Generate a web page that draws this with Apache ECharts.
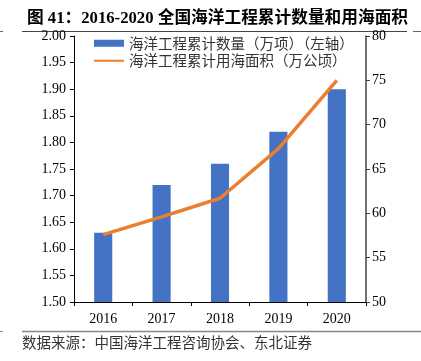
<!DOCTYPE html>
<html><head><meta charset="utf-8">
<script src="https://cdn.jsdelivr.net/npm/echarts@6/dist/echarts.min.js"></script>
<style>html,body{margin:0;padding:0;background:#fff;}#c{width:421px;height:361px;}</style>
</head><body><div id="c"></div>
<script>
const categories = ['2016','2017','2018','2019','2020'];
const countValues = [1.63, 1.72, 1.76, 1.82, 1.90];
const areaValues = [57.6, 59.6, 61.7, 67.3, 75.0];
const leftTicks = [1.50, 2.00, 0.05];
const rightTicks = [50, 80, 5];
const seriesNames = ['海洋工程累计数量（万项）（左轴）', '海洋工程累计用海面积（万公顷）'];

const serif = '"Liberation Serif","Times New Roman","Noto Sans CJK SC",serif';
const cjk = '"Noto Sans CJK SC",sans-serif';
const chart = echarts.init(document.getElementById('c'), null, {renderer:'canvas'});
chart.setOption({
  animation: false,
  backgroundColor: '#fff',
  title: {
    text: '图 41：2016-2020 全国海洋工程累计数量和用海面积',
    left: 22, top: 5,
    textStyle: {fontFamily: '"Liberation Serif","Noto Sans CJK SC",serif', fontSize: 16.7, fontWeight: 'bold', color: '#000'}
  },
  legend: {
    left: 88, top: 31, orient: 'vertical', itemGap: 3,
    itemWidth: 30, itemHeight: 7,
    textStyle: {fontFamily: cjk, fontSize: 14.5, color: '#333'},
    data: [{name: seriesNames[0], icon: 'rect'},
           {name: seriesNames[1], itemStyle: {opacity: 0}}]
  },
  grid: {left: 74, right: 55, top: 36, bottom: 59, containLabel: false},
  xAxis: {
    type: 'category', data: categories,
    axisLine: {lineStyle: {color: '#000', width: 1}},
    axisTick: {show: true, length: 4, lineStyle: {color: '#000'}},
    axisLabel: {fontFamily: serif, fontSize: 14, color: '#000', margin: 10}
  },
  yAxis: [
    {type: 'value', min: leftTicks[0], max: leftTicks[1], interval: leftTicks[2],
     axisLine: {show: true, lineStyle: {color: '#000'}},
     axisTick: {show: true, length: 4, lineStyle: {color: '#000'}},
     splitLine: {show: false},
     axisLabel: {fontFamily: serif, fontSize: 14, color: '#000', margin: 8, formatter: v => v.toFixed(2)}},
    {type: 'value', min: rightTicks[0], max: rightTicks[1], interval: rightTicks[2],
     axisLine: {show: true, lineStyle: {color: '#404040', width: 1.5}},
     axisTick: {show: true, length: 4, lineStyle: {color: '#404040'}},
     splitLine: {show: false},
     axisLabel: {fontFamily: serif, fontSize: 14, color: '#000', margin: 6}}
  ],
  series: [
    {name: seriesNames[0], type: 'bar', data: countValues, barWidth: '31%',
     itemStyle: {color: '#4472C4'}},
    {name: seriesNames[1], type: 'line', yAxisIndex: 1, data: areaValues,
     symbol: 'none', lineStyle: {color: '#ED7D31', width: 3.5}, itemStyle: {color: '#ED7D31'}}
  ],
  graphic: [
    {type: 'line', shape: {x1: 22, y1: 31.5, x2: 407, y2: 31.5}, style: {stroke: '#444', lineWidth: 1}},
    {type: 'line', shape: {x1: 0, y1: 31.5, x2: 3, y2: 31.5}, style: {stroke: '#666', lineWidth: 1}},
    {type: 'line', shape: {x1: 413, y1: 31.5, x2: 421, y2: 31.5}, style: {stroke: '#666', lineWidth: 1}},
    {type: 'line', shape: {x1: 22, y1: 331.5, x2: 421, y2: 331.5}, style: {stroke: '#888', lineWidth: 1.5}},
    {type: 'line', shape: {x1: 0, y1: 331.5, x2: 3, y2: 331.5}, style: {stroke: '#888', lineWidth: 1}},
    {type: 'text', left: 22, top: 335, style: {text: '数据来源：中国海洋工程咨询协会、东北证券', font: '14.5px "Noto Sans CJK SC", sans-serif', fill: '#333'}}
  ]
});
</script></body></html>
